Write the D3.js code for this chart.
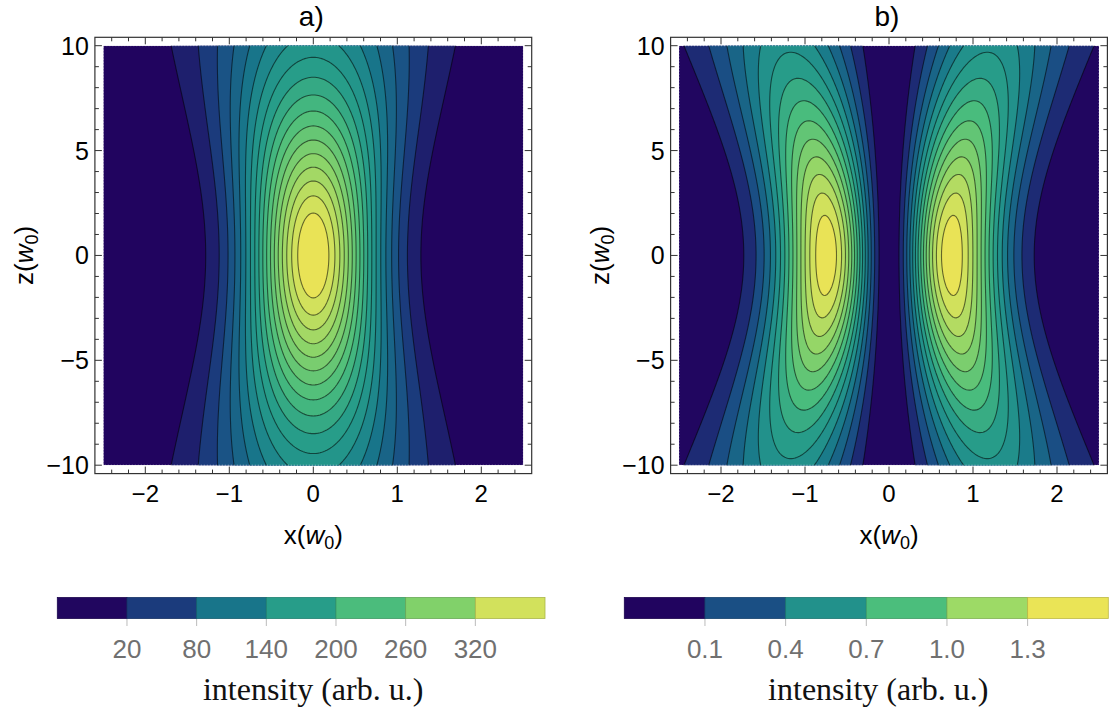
<!DOCTYPE html>
<html>
<head>
<meta charset="utf-8">
<script src="https://cdn.jsdelivr.net/npm/d3@7"></script>
<style>
  body { margin: 0; background: #fff; }
  .sans { font-family: "Liberation Sans", Arial, sans-serif; }
  .serif { font-family: "Liberation Serif", "Times New Roman", serif; }
</style>
</head>
<body>
<svg id="chart" width="1116" height="715"></svg>
<script>
// ---- values ----
var xTicks = [-2, -1, 0, 1, 2];
var zTicks = [-10, -5, 0, 5, 10];
var xDomain = [-2.5, 2.5];
var zDomain = [-10, 10];

// beam parameters (units of w0)
var peakA = [383];          // on-axis focus intensity, panel a
var peakB = [1.48];         // lobe maximum, panel b
var rayleigh = [8];         // z_R
var spread = [1.8];         // factor k in exp(-k x^2 / w^2)

var levelsA = [20, 40, 60, 80, 100, 120, 140, 160, 180, 200, 220, 240, 260, 280, 300, 320, 340, 360];
var levelsB = [0.1, 0.2, 0.3, 0.4, 0.5, 0.6, 0.7, 0.8, 0.9, 1.0, 1.1, 1.2, 1.3, 1.4];

var legendTicksA = [20, 80, 140, 200, 260, 320];
var legendEdgesA = [-40, 380];
var legendColorsA = ["#21065f", "#1b3b7c", "#18758a", "#279d89", "#4bbc7c", "#81d16a", "#d2e15c"];
var legendTicksB = [0.1, 0.4, 0.7, 1.0, 1.3];
var legendEdgesB = [-0.2, 1.6];
var legendColorsB = ["#21045f", "#1a4f84", "#22918b", "#4bbe7c", "#9dda66", "#eae456"];

var cmapStops = [0, 0.03, 0.13, 0.17, 0.287, 0.37, 0.444, 0.58, 0.767, 0.914, 0.97, 1];
var cmapColors = ["#200260", "#21045f", "#1b3b7c", "#1a4f84", "#18758a", "#22918b",
                  "#279d89", "#4bbd7c", "#90d568", "#d2e15c", "#e9e356", "#eee556"];

// ---- setup ----
var svg = d3.select("#chart");
var cmap = d3.scaleLinear().domain(cmapStops).range(cmapColors).interpolate(d3.interpolateRgb).clamp(true);

function w2(z) { return 1 + (z / rayleigh[0]) * (z / rayleigh[0]); }
function fieldA(x, z) {
    var w = w2(z);
    return peakA[0] / w * Math.exp(-spread[0] * x * x / w);
}
function fieldB(x, z) {
    var w = w2(z), v = spread[0] * x * x / w;
    return peakB[0] * Math.E * v * Math.exp(-v) / w;
}

var panels = [
    {id: "a", field: fieldA, levels: levelsA, peak: peakA[0], x0: 103.3, title: "a)"},
    {id: "b", field: fieldB, levels: levelsB, peak: peakB[0], x0: 679, title: "b)"}
];

panels.forEach(function(p) {
    var xs = d3.scaleLinear().domain(xDomain).range([p.x0, p.x0 + 420]);
    var zs = d3.scaleLinear().domain(zDomain).range([465.2, 45.7]);
    var g = svg.append("g").attr("class", "sans");

    // grid a bit larger than the domain so the border edges get clipped away
    var nx = 281, nz = 441, gx0 = -2.8, gdx = 5.6 / (nx - 1), gz0 = -11, gdz = 22 / (nz - 1);
    var values = new Array(nx * nz);
    for (var j = 0; j < nz; j++)
        for (var i = 0; i < nx; i++)
            values[j * nx + i] = p.field(gx0 + i * gdx, gz0 + j * gdz);

    var contours = d3.contours().size([nx, nz]).thresholds(p.levels)(values);
    var proj = d3.geoTransform({
        point: function(px, py) {
            this.stream.point(xs(gx0 + (px - 0.5) * gdx), zs(gz0 + (py - 0.5) * gdz));
        }
    });
    var path = d3.geoPath(proj);

    var clipId = "clip-" + p.id;
    svg.append("clipPath").attr("id", clipId)
        .append("rect")
        .attr("x", xs(xDomain[0])).attr("y", zs(zDomain[1]))
        .attr("width", xs(xDomain[1]) - xs(xDomain[0]))
        .attr("height", zs(zDomain[0]) - zs(zDomain[1]));

    var body = g.append("g").attr("clip-path", "url(#" + clipId + ")");
    var lv = p.levels;
    body.append("rect")
        .attr("x", xs(xDomain[0])).attr("y", zs(zDomain[1]))
        .attr("width", xs(xDomain[1]) - xs(xDomain[0]))
        .attr("height", zs(zDomain[0]) - zs(zDomain[1]))
        .attr("fill", cmap(lv[0] / 2 / p.peak));

    body.selectAll("path.band")
        .data(contours)
        .enter().append("path")
        .attr("class", "band")
        .attr("d", path)
        .attr("fill", function(d, k) {
            var hi = k + 1 < lv.length ? lv[k + 1] : p.peak;
            return cmap((d.value + hi) / 2 / p.peak);
        });

    body.selectAll("path.line")
        .data(contours)
        .enter().append("path")
        .attr("class", "line")
        .attr("d", path)
        .attr("fill", "none")
        .attr("stroke", "#000")
        .attr("stroke-opacity", 0.55)
        .attr("stroke-width", 1.1);

    // light dotted edge of the shaded area
    g.append("rect")
        .attr("x", xs(xDomain[0])).attr("y", zs(zDomain[1]))
        .attr("width", xs(xDomain[1]) - xs(xDomain[0]))
        .attr("height", zs(zDomain[0]) - zs(zDomain[1]))
        .attr("fill", "none")
        .attr("stroke", "#fff")
        .attr("stroke-opacity", 0.6)
        .attr("stroke-dasharray", "1,2");

    // frame
    var fx0 = xs(-2.6), fx1 = xs(2.6), fy0 = zs(10.4), fy1 = zs(-10.4);
    g.append("rect")
        .attr("x", fx0).attr("y", fy0)
        .attr("width", fx1 - fx0).attr("height", fy1 - fy0)
        .attr("fill", "none").attr("stroke", "#333").attr("stroke-width", 1.2);

    var xMinor = d3.range(-2.4, 2.45, 0.2).filter(function(v) { return Math.abs(v - Math.round(v)) > 0.01; });
    var zMinor = d3.range(-10, 10.5, 1).filter(function(v) { return v % 5 !== 0; });
    var ticks = g.append("g").attr("stroke", "#333").attr("stroke-width", 1);
    xTicks.forEach(function(v) {
        ticks.append("line").attr("x1", xs(v)).attr("x2", xs(v)).attr("y1", fy1).attr("y2", fy1 - 7);
        ticks.append("line").attr("x1", xs(v)).attr("x2", xs(v)).attr("y1", fy0).attr("y2", fy0 + 7);
    });
    xMinor.forEach(function(v) {
        ticks.append("line").attr("x1", xs(v)).attr("x2", xs(v)).attr("y1", fy1).attr("y2", fy1 - 4);
        ticks.append("line").attr("x1", xs(v)).attr("x2", xs(v)).attr("y1", fy0).attr("y2", fy0 + 4);
    });
    zTicks.forEach(function(v) {
        ticks.append("line").attr("y1", zs(v)).attr("y2", zs(v)).attr("x1", fx0).attr("x2", fx0 + 7);
        ticks.append("line").attr("y1", zs(v)).attr("y2", zs(v)).attr("x1", fx1).attr("x2", fx1 - 7);
    });
    zMinor.forEach(function(v) {
        ticks.append("line").attr("y1", zs(v)).attr("y2", zs(v)).attr("x1", fx0).attr("x2", fx0 + 4);
        ticks.append("line").attr("y1", zs(v)).attr("y2", zs(v)).attr("x1", fx1).attr("x2", fx1 - 4);
    });

    var fmt = d3.format("d");
    g.selectAll("text.xt").data(xTicks).enter().append("text")
        .attr("x", function(d) { return xs(d); })
        .attr("y", 502)
        .attr("text-anchor", "middle")
        .attr("font-size", 24)
        .text(function(d) { return fmt(d); });
    g.selectAll("text.zt").data(zTicks).enter().append("text")
        .attr("x", fx0 - 6)
        .attr("y", function(d) { return zs(d) + 9; })
        .attr("text-anchor", "end")
        .attr("font-size", 25)
        .text(function(d) { return fmt(d); });

    var cx = xs(0);
    var xl = g.append("text").attr("x", cx).attr("y", 544).attr("text-anchor", "middle").attr("font-size", 26);
    xl.append("tspan").text("x(");
    xl.append("tspan").attr("font-style", "italic").text("w");
    xl.append("tspan").attr("font-size", 18).attr("dy", 5).text("0");
    xl.append("tspan").attr("dy", -5).text(")");

    var zl = g.append("text")
        .attr("transform", "translate(" + (fx0 - 62) + "," + zs(0) + ") rotate(-90)")
        .attr("text-anchor", "middle").attr("font-size", 26);
    zl.append("tspan").text("z(");
    zl.append("tspan").attr("font-style", "italic").text("w");
    zl.append("tspan").attr("font-size", 18).attr("dy", 5).text("0");
    zl.append("tspan").attr("dy", -5).text(")");

    g.append("text").attr("x", cx - 2).attr("y", 26).attr("text-anchor", "middle")
        .attr("font-size", 28).text(p.title);
});

// ---- legends ----
function legend(x0, x1, ticks, edges, colors, digits) {
    var n = colors.length;
    var ls = d3.scaleLinear().domain(edges).range([x0, x1]);
    var step = (edges[1] - edges[0]) / n;
    var g = svg.append("g");
    g.selectAll("rect").data(colors).enter().append("rect")
        .attr("x", function(d, i) { return ls(edges[0] + i * step); })
        .attr("y", 597.5)
        .attr("width", ls(edges[0] + step) - ls(edges[0]))
        .attr("height", 21)
        .attr("fill", function(d) { return d; })
        .attr("stroke", function(d) { return d3.color(d).darker(0.6); })
        .attr("stroke-width", 0.8);
    g.selectAll("line").data(ticks).enter().append("line")
        .attr("x1", function(d) { return ls(d); }).attr("x2", function(d) { return ls(d); })
        .attr("y1", 619).attr("y2", 626)
        .attr("stroke", "#bbb");
    g.selectAll("text.t").data(ticks).enter().append("text")
        .attr("class", "sans")
        .attr("x", function(d) { return ls(d); })
        .attr("y", 658)
        .attr("text-anchor", "middle")
        .attr("font-size", 26)
        .attr("fill", "#707070")
        .text(function(d) { return d.toFixed(digits); });
    g.append("text")
        .attr("class", "serif")
        .attr("x", (x0 + x1) / 2 + 12)
        .attr("y", 700)
        .attr("text-anchor", "middle")
        .attr("font-size", 32)
        .attr("fill", "#111")
        .text("intensity (arb. u.)");
}
legend(57.3, 545, legendTicksA, legendEdgesA, legendColorsA, 0);
legend(624.3, 1108.3, legendTicksB, legendEdgesB, legendColorsB, 1);
</script>
</body>
</html>
